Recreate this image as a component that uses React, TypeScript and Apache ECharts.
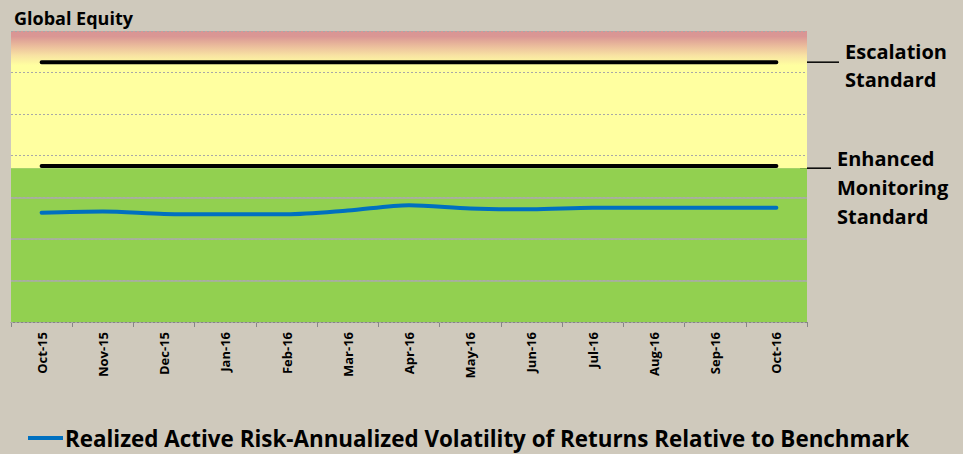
import React, { useEffect, useRef } from "react";
import * as echarts from "echarts";

const categories = [
  "Oct-15", "Nov-15", "Dec-15", "Jan-16", "Feb-16", "Mar-16", "Apr-16",
  "May-16", "Jun-16", "Jul-16", "Aug-16", "Sep-16", "Oct-16",
];
const realizedRisk = [2.63, 2.66, 2.6, 2.59, 2.59, 2.68, 2.81, 2.73, 2.71, 2.75, 2.75, 2.75, 2.75];
const escalationStandard = 6.25;
const enhancedStandard = 3.75;
const greenZoneTop = 3.7;
const axisMin = 0;
const axisMax = 7;
const axisInterval = 1;
const greenGridValues = [1, 2, 3];
const seriesName = "Realized Active Risk-Annualized Volatility of Returns Relative to Benchmark";
const escalationLabel = ["Escalation", "Standard"];
const enhancedLabel = ["Enhanced", "Monitoring", "Standard"];

const FONT = "Open Sans";

export default function App() {
  const ref = useRef<HTMLDivElement>(null);
  useEffect(() => {
    if (!ref.current) return;
    const chart = echarts.init(ref.current, undefined, { renderer: "svg" });
    const option: any = {
      animation: false,
      backgroundColor: "#CFC9BC",
      title: {
        text: "Global Equity",
        left: 14,
        top: 9,
        padding: 0,
        textStyle: { fontFamily: FONT, fontWeight: "bold", fontSize: 18, color: "#000" },
      },
      grid: { left: 11, right: 156, top: 31, bottom: 132 },
      legend: {
        data: [seriesName],
        left: 28,
        top: 427,
        padding: 0,
        icon: "rect",
        itemWidth: 35,
        itemHeight: 4,
        textStyle: {
          fontFamily: FONT,
          fontWeight: "bold",
          fontSize: 22.4,
          lineHeight: 22,
          color: "#000",
          padding: [0, 0, 0, -3],
        },
      },
      xAxis: {
        type: "category",
        data: categories,
        boundaryGap: true,
        axisLine: { lineStyle: { color: "#868686", width: 1 } },
        axisTick: { show: true, length: 5, lineStyle: { color: "#868686" } },
        axisLabel: {
          rotate: 90,
          margin: 10,
          fontFamily: FONT,
          fontWeight: "bold",
          fontSize: 13,
          color: "#000",
        },
        splitLine: { show: false },
      },
      yAxis: {
        type: "value",
        min: axisMin,
        max: axisMax,
        interval: axisInterval,
        z: 2,
        axisLine: { show: false },
        axisTick: { show: false },
        axisLabel: { show: false },
        splitLine: { show: true, lineStyle: { color: "#A8A8A8", width: 1, type: [2, 2] } },
      },
      series: [
        {
          name: "zones",
          type: "line",
          data: [],
          z: 1,
          silent: true,
          markArea: {
            silent: true,
            data: [
              [
                {
                  yAxis: greenZoneTop,
                  itemStyle: {
                    color: new echarts.graphic.LinearGradient(0, 0, 0, 1, [
                      { offset: 0, color: "#D99594" },
                      { offset: 0.04, color: "#DA9794" },
                      { offset: 0.11, color: "#EBBD9C" },
                      { offset: 0.18, color: "#F8E3A3" },
                      { offset: 0.25, color: "#FFFFA0" },
                      { offset: 1, color: "#FFFFA0" },
                    ]),
                  },
                },
                { yAxis: axisMax },
              ],
              [
                { yAxis: axisMin, itemStyle: { color: "#92D050" } },
                { yAxis: greenZoneTop },
              ],
            ],
          },
        },
        {
          name: "Escalation",
          type: "line",
          data: categories.map(() => escalationStandard),
          symbol: "none",
          z: 4,
          silent: true,
          lineStyle: { color: "#000", width: 4, cap: "round" },
          markLine: {
            silent: true,
            symbol: "none",
            label: { show: false },
            lineStyle: { color: "#ABABAB", width: 1.5, type: "solid" },
            data: greenGridValues.map((v) => ({ yAxis: v })),
          },
        },
        {
          name: "Enhanced",
          type: "line",
          data: categories.map(() => enhancedStandard),
          symbol: "none",
          z: 4,
          silent: true,
          lineStyle: { color: "#000", width: 4, cap: "round" },
        },
        {
          name: seriesName,
          type: "line",
          data: realizedRisk,
          symbol: "none",
          smooth: 0.3,
          z: 5,
          color: "#0070C0",
          lineStyle: { color: "#0070C0", width: 4, cap: "round" },
        },
      ],
    };
    chart.setOption(option);

    const yEsc = chart.convertToPixel({ yAxisIndex: 0 }, escalationStandard) as number;
    const yEnh = chart.convertToPixel({ yAxisIndex: 0 }, greenZoneTop) as number;
    const plotRight = 963 - 156;
    const textStyle = { fontFamily: FONT, fontWeight: "bold", fontSize: 20, fill: "#000", verticalAlign: "middle" };
    const graphics: any[] = [
      { type: "line", shape: { x1: plotRight, y1: yEsc, x2: plotRight + 32, y2: yEsc }, style: { stroke: "#000", lineWidth: 1.5 } },
      { type: "line", shape: { x1: plotRight - 7, y1: yEnh, x2: plotRight + 24, y2: yEnh }, style: { stroke: "#000", lineWidth: 1.5 } },
    ];
    escalationLabel.forEach((t, i) => {
      graphics.push({ type: "text", x: 845, y: yEsc - 11 + i * 28.5, style: { ...textStyle, text: t } });
    });
    enhancedLabel.forEach((t, i) => {
      graphics.push({ type: "text", x: 837, y: yEnh - 10 + i * 29, style: { ...textStyle, text: t } });
    });
    chart.setOption({ graphic: graphics });

    return () => chart.dispose();
  }, []);
  return (
    <div
      ref={ref}
      style={{ position: "absolute", left: 0, top: 0, width: 963, height: 454, background: "#CFC9BC" }}
    />
  );
}
